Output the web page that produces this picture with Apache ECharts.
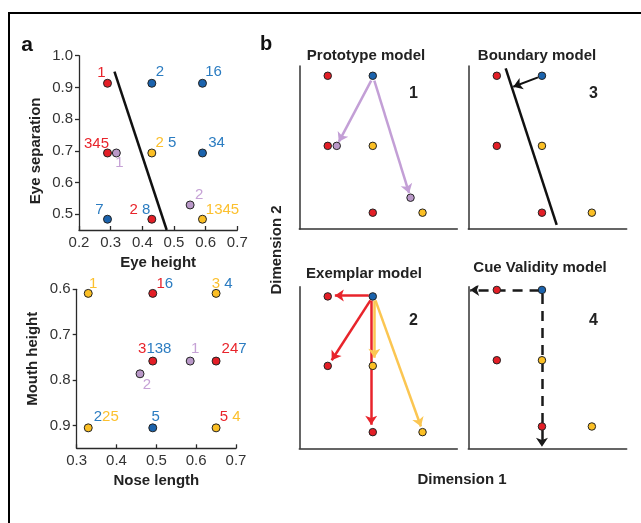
<!DOCTYPE html>
<html>
<head>
<meta charset="utf-8">
<script src="https://cdn.jsdelivr.net/npm/echarts@6/dist/echarts.min.js"></script>
<style>
  html, body { margin: 0; padding: 0; background: #fff; }
  #chart { width: 641px; height: 523px; }
</style>
</head>
<body>
<div id="chart"></div>
<script>
  // panel a, top: eye height vs eye separation
  const eyeHeight = [0.29, 0.43, 0.59, 0.29, 0.318, 0.43, 0.59, 0.29, 0.43, 0.551, 0.59];
  const eyeSeparation = [0.913, 0.913, 0.913, 0.693, 0.693, 0.693, 0.693, 0.484, 0.484, 0.529, 0.484];
  const eyeClass = ['r', 'b', 'b', 'r', 'p', 'y', 'b', 'b', 'r', 'p', 'y'];
  const eyeTags = [
    [['r', '1']], [['b', '2']], [['b', '16']], [['r', '345']], [['p', '1']],
    [['y', '2 '], ['b', '5']], [['b', '34']], [['b', '7']], [['r', '2 '], ['b', '8']],
    [['p', '2']], [['y', '1345']]
  ];
  const eyeBoundary = [[0.312, 0.95], [0.477, 0.45]];

  // panel a, bottom: nose length vs mouth height
  const noseLength = [0.329, 0.491, 0.65, 0.491, 0.585, 0.65, 0.459, 0.329, 0.491, 0.65];
  const mouthHeight = [0.609, 0.609, 0.609, 0.758, 0.758, 0.758, 0.786, 0.905, 0.905, 0.905];
  const mouthClass = ['y', 'r', 'y', 'r', 'p', 'r', 'p', 'y', 'b', 'y'];
  const mouthTags = [
    [['y', '1']], [['r', '1'], ['b', '6']], [['y', '3 '], ['b', '4']], [['r', '3'], ['b', '138']],
    [['p', '1']], [['r', '24'], ['b', '7']], [['p', '2']], [['b', '2'], ['y', '25']],
    [['b', '5']], [['r', '5 '], ['y', '4']]
  ];

  // panel b: schematic stimuli (Dimension 1, Dimension 2)
  const dim1 = [1.8, 4.65, 1.8, 4.65, 4.65, 7.8];
  const dim2 = [9.4, 9.4, 5.1, 5.1, 1.0, 1.0];
  const dim2Cue = [9.8, 9.8, 5.45, 5.45, 1.35, 1.35];
  const stimClass = ['r', 'b', 'r', 'y', 'r', 'y'];
  const protoDim1 = [2.37, 7.04];
  const protoDim2 = [5.1, 1.92];

  const protoArrows = [[[4.55, 9.1], [2.5, 5.35]], [[4.75, 9.1], [6.95, 2.2]]];
  const boundaryLine = [[2.36, 9.86], [5.58, 0.25]];
  const boundaryArrow = [[4.4, 9.3], [2.84, 8.73]];
  const exemplarRed = [[[4.4, 9.45], [2.25, 9.45]], [[4.5, 9.15], [2.05, 5.45]], [[4.55, 9.15], [4.55, 1.45]]];
  const exemplarYellow = [[[4.75, 9.15], [4.75, 5.6]], [[4.82, 9.15], [7.7, 1.35]]];
  const cueArrows = [[[4.5, 9.8], [0.12, 9.8]], [[4.65, 9.55], [4.65, 0.1]]];

  // label offsets (px) for the tags in panel a
  const eyeTagOffset = [[-6, -10], [8, -11], [11, -11], [-11, -9], [3, 10], [14, -10], [14, -10], [-8, -9], [-12, -9], [9, -10], [20, -9]];
  const mouthTagOffset = [[5, -10], [12, -10], [6, -10], [2, -12], [5, -12], [18, -12], [7, 11], [18, -11], [3, -11], [14, -11]];

  const FONT = "'Liberation Sans', Arial, Helvetica, sans-serif";
  const dotColor = { r: '#e31e26', b: '#1b63ad', y: '#fbbf24', p: '#b998c8' };
  const tagColor = { r: '#e8242b', b: '#2b7cc1', y: '#fcc02e', p: '#c6a2d6' };
  const rich = {};
  Object.keys(tagColor).forEach(function (k) {
    rich[k] = { color: tagColor[k], fontSize: 15, fontFamily: FONT };
  });

  function tagText(pieces) {
    return pieces.map(function (p) { return '{' + p[0] + '|' + p[1] + '}'; }).join('');
  }

  function dots(xs, ys, cls, tags, offsets) {
    return xs.map(function (x, i) {
      const item = {
        value: [x, ys[i]],
        itemStyle: { color: dotColor[cls[i]] }
      };
      if (tags) {
        item.label = { show: true, formatter: tagText(tags[i]), offset: offsets[i] };
      }
      return item;
    });
  }

  const chart = echarts.init(document.getElementById('chart'));

  const grids = [
    { left: 79, top: 55.7, width: 158.3, height: 174.3 },
    { left: 76.7, top: 289.3, width: 159.3, height: 159 },
    { left: 299.3, top: 66, width: 158, height: 163 },
    { left: 468.3, top: 66, width: 158.4, height: 163 },
    { left: 299.3, top: 286.7, width: 158, height: 161.6 },
    { left: 468.3, top: 286.7, width: 158.4, height: 161.6 }
  ];

  const axisLineStyle = { color: '#2a2a2a', width: 1.3 };
  const tickLabel = { fontSize: 15, color: '#333', fontFamily: FONT, formatter: function (v) { return v.toFixed(1); } };
  const nameStyle = { fontSize: 15, fontWeight: 'bold', color: '#222', fontFamily: FONT };

  const xAxes = [
    {
      gridIndex: 0, type: 'value', min: 0.2, max: 0.7, interval: 0.1,
      axisLine: { onZero: false, lineStyle: axisLineStyle },
      axisTick: { inside: true, length: 4, lineStyle: axisLineStyle },
      axisLabel: Object.assign({ margin: 5 }, tickLabel),
      splitLine: { show: false },
      name: 'Eye height', nameLocation: 'middle', nameGap: 25, nameTextStyle: nameStyle
    },
    {
      gridIndex: 1, type: 'value', min: 0.3, max: 0.7, interval: 0.1,
      axisLine: { onZero: false, lineStyle: axisLineStyle },
      axisTick: { inside: true, length: 4, lineStyle: axisLineStyle },
      axisLabel: Object.assign({ margin: 5 }, tickLabel),
      splitLine: { show: false },
      name: 'Nose length', nameLocation: 'middle', nameGap: 25, nameTextStyle: nameStyle
    }
  ];
  const yAxes = [
    {
      gridIndex: 0, type: 'value', min: 0.45, max: 1.0,
      axisLine: { onZero: false, lineStyle: axisLineStyle },
      axisTick: { length: 4, lineStyle: axisLineStyle, customValues: [0.5, 0.6, 0.7, 0.8, 0.9, 1.0] },
      axisLabel: Object.assign({ margin: 6, customValues: [0.5, 0.6, 0.7, 0.8, 0.9, 1.0] }, tickLabel),
      splitLine: { show: false },
      name: 'Eye separation', nameLocation: 'middle', nameGap: 36,
      nameTextStyle: Object.assign({ padding: [0, 16, 0, 0] }, nameStyle)
    },
    {
      gridIndex: 1, type: 'value', min: 0.6, max: 0.95, inverse: true,
      axisLine: { onZero: false, lineStyle: axisLineStyle },
      axisTick: { length: 4, lineStyle: axisLineStyle, customValues: [0.6, 0.7, 0.8, 0.9] },
      axisLabel: Object.assign({ margin: 6, customValues: [0.6, 0.7, 0.8, 0.9] }, tickLabel),
      splitLine: { show: false },
      name: 'Mouth height', nameLocation: 'middle', nameGap: 36,
      nameTextStyle: Object.assign({ padding: [0, 0, 0, 20] }, nameStyle)
    }
  ];
  for (let g = 2; g < 6; g++) {
    const bare = {
      gridIndex: g, type: 'value', min: 0, max: 10,
      axisLine: { onZero: false, lineStyle: { color: '#333', width: 1.5 } },
      axisTick: { show: false }, axisLabel: { show: false }, splitLine: { show: false }
    };
    xAxes.push(Object.assign({}, bare));
    yAxes.push(Object.assign({}, bare));
  }

  function scatter(idx, data, size) {
    return {
      type: 'scatter', xAxisIndex: idx, yAxisIndex: idx, z: 5,
      symbolSize: size,
      itemStyle: { borderColor: '#222', borderWidth: 1, opacity: 1 },
      label: { show: false, position: 'inside', rich: rich, fontSize: 15, fontFamily: FONT },
      emphasis: { disabled: true },
      data: data
    };
  }

  function arrows(idx, segs, color, width, dashed, head) {
    return {
      type: 'lines', coordinateSystem: 'cartesian2d', xAxisIndex: idx, yAxisIndex: idx, z: 3,
      symbol: ['none', head === false ? 'none' : 'arrow'], symbolSize: 9,
      lineStyle: { color: color, width: width, opacity: 1, type: dashed ? [10, 7] : 'solid' },
      silent: true,
      data: segs.map(function (s) { return { coords: s }; })
    };
  }

  const option = {
    animation: false,
    textStyle: { fontFamily: FONT },
    grid: grids,
    xAxis: xAxes,
    yAxis: yAxes,
    series: [
      arrows(0, [eyeBoundary], '#111', 2.5, false, false),
      scatter(0, dots(eyeHeight, eyeSeparation, eyeClass, eyeTags, eyeTagOffset), 8),
      scatter(1, dots(noseLength, mouthHeight, mouthClass, mouthTags, mouthTagOffset), 8),

      arrows(2, protoArrows, '#c39fd6', 2.5),
      scatter(2, dots(dim1, dim2, stimClass), 7.5),
      scatter(2, dots(protoDim1, protoDim2, ['p', 'p']), 7.5),

      arrows(3, [boundaryLine], '#111', 2.5, false, false),
      arrows(3, [boundaryArrow], '#111', 2),
      scatter(3, dots(dim1, dim2, stimClass), 7.5),

      arrows(4, exemplarRed, '#e8242b', 2.5),
      arrows(4, exemplarYellow, '#fbc652', 2.5),
      scatter(4, dots(dim1, dim2, stimClass), 7.5),

      arrows(5, cueArrows, '#1a1a1a', 2.5, true),
      scatter(5, dots(dim1, dim2Cue, stimClass), 7.5)
    ],
    graphic: [
      { type: 'line', shape: { x1: 8, y1: 13, x2: 641, y2: 13 }, style: { stroke: '#000', lineWidth: 2 } },
      { type: 'line', shape: { x1: 9, y1: 12, x2: 9, y2: 523 }, style: { stroke: '#000', lineWidth: 2 } },
      { type: 'text', x: 27, y: 45, style: { text: 'a', font: 'bold 21px ' + FONT, fill: '#111', align: 'center', verticalAlign: 'middle', textAlign: 'center', textVerticalAlign: 'middle' } },
      { type: 'text', x: 266, y: 44, style: { text: 'b', font: 'bold 20px ' + FONT, fill: '#111', align: 'center', verticalAlign: 'middle', textAlign: 'center', textVerticalAlign: 'middle' } },
      { type: 'text', x: 366, y: 55.5, style: { text: 'Prototype model', font: 'bold 15px ' + FONT, fill: '#222', align: 'center', verticalAlign: 'middle', textAlign: 'center', textVerticalAlign: 'middle' } },
      { type: 'text', x: 537, y: 55.5, style: { text: 'Boundary model', font: 'bold 15px ' + FONT, fill: '#222', align: 'center', verticalAlign: 'middle', textAlign: 'center', textVerticalAlign: 'middle' } },
      { type: 'text', x: 364, y: 274, style: { text: 'Exemplar model', font: 'bold 15px ' + FONT, fill: '#222', align: 'center', verticalAlign: 'middle', textAlign: 'center', textVerticalAlign: 'middle' } },
      { type: 'text', x: 540, y: 267.5, style: { text: 'Cue Validity model', font: 'bold 15px ' + FONT, fill: '#222', align: 'center', verticalAlign: 'middle', textAlign: 'center', textVerticalAlign: 'middle' } },
      { type: 'text', x: 462, y: 479.5, style: { text: 'Dimension 1', font: 'bold 15px ' + FONT, fill: '#222', align: 'center', verticalAlign: 'middle', textAlign: 'center', textVerticalAlign: 'middle' } },
      { type: 'text', x: 277, y: 250, rotation: Math.PI / 2, style: { text: 'Dimension 2', font: 'bold 15px ' + FONT, fill: '#222', align: 'center', verticalAlign: 'middle', textAlign: 'center', textVerticalAlign: 'middle' } },
      { type: 'text', x: 413.5, y: 93.5, style: { text: '1', font: 'bold 16px ' + FONT, fill: '#222', align: 'center', verticalAlign: 'middle', textAlign: 'center', textVerticalAlign: 'middle' } },
      { type: 'text', x: 593.5, y: 93.5, style: { text: '3', font: 'bold 16px ' + FONT, fill: '#222', align: 'center', verticalAlign: 'middle', textAlign: 'center', textVerticalAlign: 'middle' } },
      { type: 'text', x: 413.5, y: 320.5, style: { text: '2', font: 'bold 16px ' + FONT, fill: '#222', align: 'center', verticalAlign: 'middle', textAlign: 'center', textVerticalAlign: 'middle' } },
      { type: 'text', x: 593.5, y: 320.5, style: { text: '4', font: 'bold 16px ' + FONT, fill: '#222', align: 'center', verticalAlign: 'middle', textAlign: 'center', textVerticalAlign: 'middle' } }
    ]
  };

  chart.setOption(option);
</script>
</body>
</html>
